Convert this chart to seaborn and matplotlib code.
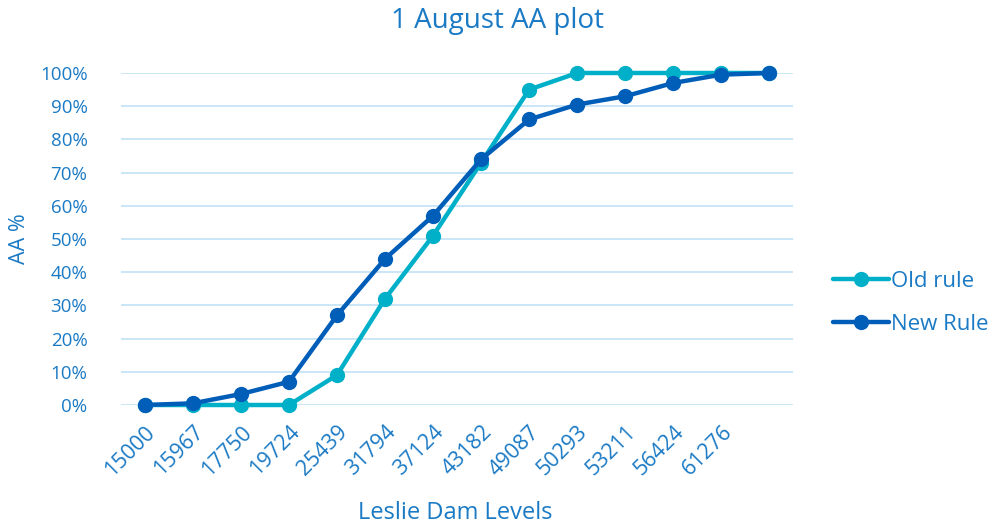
import pandas as pd
import numpy as np
import matplotlib.pyplot as plt
import matplotlib.ticker as tkr
import seaborn as sns

# datos
levels = ['15000', '15967', '17750', '19724', '25439', '31794', '37124',
          '43182', '49087', '50293', '53211', '56424', '61276', '']
old_rule = [0, 0, 0, 0, 9, 32, 51, 73, 95, 100, 100, 100, 100, 100]
new_rule = [0, 0.5, 3.3, 7, 27, 44, 57, 74, 86, 90.5, 93, 97, 99.5, 100]

txt = '#1B7AC4'
c_old = '#00B0C8'
c_new = '#005EB8'
grid = '#C6E4F7'

sns.set_theme(style='white')
plt.rcParams['font.family'] = ['Open Sans', 'DejaVu Sans']

pos = np.arange(len(levels))
df = pd.DataFrame({
    'pos': np.concatenate([pos, pos]),
    'val': np.array(old_rule + new_rule) / 100,
    'serie': ['Old rule'] * len(pos) + ['New Rule'] * len(pos),
})

fig = plt.figure(figsize=(9.98, 5.27), dpi=100)
ax = fig.add_axes([0.121, 0.2315, 0.674, 0.63])

sns.lineplot(data=df, x='pos', y='val', hue='serie', hue_order=['Old rule', 'New Rule'],
             palette=[c_old, c_new], marker='o', markersize=11, markeredgewidth=0,
             linewidth=3.2, ax=ax, legend=False, clip_on=False, zorder=3)

ax.set_xlim(-0.5, len(levels) - 0.5)
ax.set_ylim(0, 1.0)
ax.set_yticks(np.arange(0, 1.01, 0.1))
ax.yaxis.set_major_formatter(tkr.FuncFormatter(lambda y, p: f'{y*100:.0f}%'))
ax.set_xticks(pos)
ax.set_xticklabels(levels, rotation=45, ha='right', rotation_mode='anchor')
ax.tick_params(axis='both', length=0, colors=txt)
ax.tick_params(axis='x', pad=12, labelsize=15.5)
ax.tick_params(axis='y', pad=24, labelsize=13.5)
for t in ax.get_xticklabels():
    t.set_color(txt)
for y in np.arange(0, 1.01, 0.1):
    ax.axhline(y, color=grid, lw=1.3, zorder=1)
for s in ax.spines.values():
    s.set_visible(False)

ax.set_xlabel('Leslie Dam Levels', fontsize=17, color=txt, va='center')
ax.xaxis.set_label_coords(0.497, -0.325)
ax.set_ylabel('AA %', fontsize=15.5, color=txt, va='center')
ax.yaxis.set_label_coords(-0.151, 0.5)
fig.text(0.498, 0.96, '1 August AA plot', ha='center', va='center', fontsize=20, color=txt)

h1 = plt.Line2D([], [], color=c_old, lw=3.2, marker='o', markersize=11, markeredgewidth=0)
h2 = plt.Line2D([], [], color=c_new, lw=3.2, marker='o', markersize=11, markeredgewidth=0)
leg = fig.legend([h1, h2], ['Old rule', 'New Rule'], loc='center left',
                 bbox_to_anchor=(0.815, 0.425), frameon=False, fontsize=16,
                 handlelength=2.5, handletextpad=0.1, labelspacing=1.0)
for t in leg.get_texts():
    t.set_color(txt)

fig.savefig('out.png', dpi=100)
